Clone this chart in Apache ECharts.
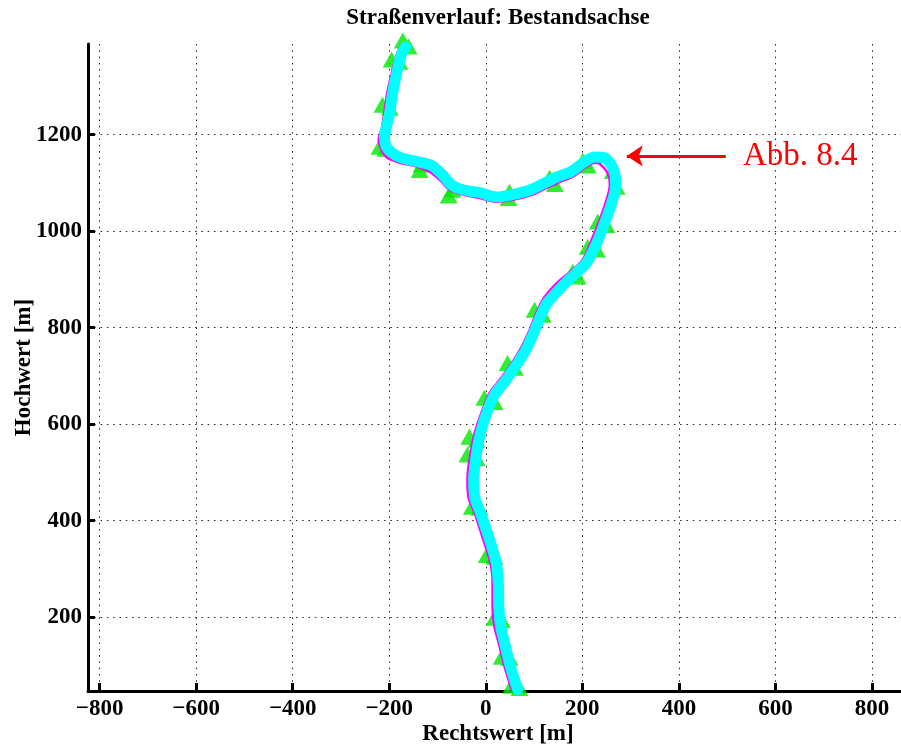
<!DOCTYPE html>
<html>
<head>
<meta charset="utf-8">
<title>Straßenverlauf: Bestandsachse</title>
<script src="https://cdn.jsdelivr.net/npm/echarts@6.0.0/dist/echarts.min.js"></script>
<style>
html, body { margin: 0; padding: 0; background: #fff; }
#chart { width: 901px; height: 747px; }
</style>
</head>
<body>
<div id="chart"></div>
<script>
// Achsen-Ticks
var xTicks = [-800, -600, -400, -200, 0, 200, 400, 600, 800];
var yTicks = [200, 400, 600, 800, 1000, 1200];

// Bestandsachse (magenta), vom Anfang unten bis zum Ende oben
var roadX = [54, 39, 29, 18, 14, 14, 8, -7, -23, -36, -38, -36, -29, -23, -9, 8, 29, 54, 74, 91,
  105, 118, 138, 159, 180, 201, 219, 236, 250, 257, 252, 236, 226, 209, 180, 153, 126, 97, 56, 22,
  -13, -48, -75, -96, -116, -143, -179, -204, -216, -222, -216, -210, -204, -193, -183, -173];
var roadY = [49, 97, 138, 180, 221, 277, 319, 366, 416, 449, 485, 512, 553, 582, 624, 665, 692, 727, 760, 796,
  831, 858, 883, 903, 920, 941, 982, 1024, 1065, 1096, 1121, 1140, 1142, 1134, 1113, 1102, 1090, 1076, 1065, 1061,
  1069, 1076, 1086, 1107, 1123, 1134, 1142, 1152, 1169, 1190, 1210, 1246, 1287, 1335, 1370, 1388];

// gerechnete Achse (cyan)
var axisX = [66, 51, 41, 31, 27, 26, 21, 6, -11, -23, -25, -23, -17, -11, 2, 18, 39, 62, 83, 99,
  114, 126, 147, 167, 188, 209, 230, 246, 261, 269, 265, 246, 225, 205, 176, 149, 122, 93, 56, 22,
  -13, -48, -71, -90, -112, -141, -175, -195, -206, -210, -206, -199, -193, -183, -175, -166];
var axisY = [50, 97, 138, 180, 221, 270, 315, 366, 416, 449, 485, 512, 553, 582, 624, 661, 688, 721, 754, 789,
  825, 850, 874, 895, 914, 935, 976, 1017, 1059, 1096, 1127, 1152, 1154, 1144, 1123, 1113, 1100, 1086, 1076, 1071,
  1080, 1086, 1096, 1117, 1136, 1144, 1152, 1163, 1175, 1194, 1215, 1246, 1287, 1335, 1366, 1382];

// Stationspunkte (gruene Dreiecke)
var markX = [-172, -160, -195, -179, -214, -199, -220, -208, -133, -137, -69, -77, 49, 47, 132, 143,
  201, 211, 263, 271, 232, 250, 211, 230, 180, 190, 101, 118, 45, 60, -3, 18,
  -34, -19, -38, -19, -29, -13, 2, 18, 18, 33, 33, 49, 53, 70];
var markY = [1395, 1383, 1356, 1351, 1262, 1256, 1175, 1171, 1138, 1127, 1086, 1074, 1082, 1069, 1111, 1098,
  1146, 1136, 1125, 1092, 1020, 1013, 968, 962, 916, 906, 837, 827, 727, 717, 655, 646,
  574, 568, 537, 530, 429, 427, 329, 325, 199, 194, 118, 116, 58, 53];

// Hinweispfeil "Abb. 8.4"
var arrowFrom = [497, 1156];
var arrowTo = [292, 1156];

var serif = '"Liberation Serif", "DejaVu Serif", serif';

function zip(xs, ys) {
  return xs.map(function (x, i) { return [x, ys[i]]; });
}

var chart = echarts.init(document.getElementById('chart'));
chart.setOption({
  animation: false,
  backgroundColor: '#fff',
  title: {
    text: 'Straßenverlauf: Bestandsachse',
    left: 498,
    top: 7,
    padding: 0,
    textAlign: 'center',
    textStyle: { fontFamily: serif, fontWeight: 'bold', fontSize: 23, color: '#000' }
  },
  grid: {
    left: 88,
    top: 44,
    right: 0,
    bottom: 56,
    outerBoundsMode: 'none'
  },
  xAxis: {
    type: 'value',
    min: -824,
    max: 860,
    name: 'Rechtswert [m]',
    nameLocation: 'middle',
    nameGap: 32,
    nameMoveOverlap: false,
    nameTextStyle: { fontFamily: serif, fontWeight: 'bold', fontSize: 23, color: '#000', padding: [0, 0, 0, 7] },
    axisLine: { show: true, onZero: false, lineStyle: { color: '#000', width: 3 } },
    axisTick: { show: true, inside: true, length: 8, customValues: xTicks, lineStyle: { color: '#000', width: 3 } },
    axisLabel: {
      customValues: xTicks,
      margin: 7,
      fontFamily: serif, fontWeight: 'bold', fontSize: 23, color: '#000',
      formatter: function (v) { return String(v).replace('-', '\u2212'); }
    },
    splitLine: { show: true, lineStyle: { color: '#222', width: 1, type: [1.5, 4.8] } }
  },
  yAxis: {
    type: 'value',
    min: 47,
    max: 1388,
    name: 'Hochwert [m]',
    nameLocation: 'middle',
    nameGap: 52,
    nameRotate: 90,
    nameMoveOverlap: false,
    nameTextStyle: { fontFamily: serif, fontWeight: 'bold', fontSize: 23, color: '#000' },
    axisLine: { show: true, onZero: false, lineStyle: { color: '#000', width: 3 } },
    axisTick: { show: true, inside: true, length: 7, customValues: yTicks, lineStyle: { color: '#000', width: 3 } },
    axisLabel: {
      customValues: yTicks,
      margin: 6,
      fontFamily: serif, fontWeight: 'bold', fontSize: 23, color: '#000',
      formatter: function (v) { return String(v); }
    },
    splitLine: { show: true, lineStyle: { color: '#222', width: 1, type: [1.5, 4.8] } }
  },
  graphic: [{
    type: 'text',
    left: 743,
    top: 140,
    style: { text: 'Abb. 8.4', fontFamily: serif, fontSize: 33, fill: '#ff0000' }
  }],
  series: [
    {
      name: 'Stationen',
      type: 'scatter',
      z: 1,
      clip: false,
      symbol: 'triangle',
      symbolSize: [18, 16],
      itemStyle: { color: '#00e800' },
      data: zip(markX, markY)
    },
    {
      name: 'Bestandsachse',
      type: 'line',
      z: 2,
      clip: false,
      showSymbol: false,
      smooth: 0.3,
      lineStyle: { color: '#ff00ff', width: 2.5 },
      data: zip(roadX, roadY),
      markLine: {
        silent: true,
        symbol: ['none', 'arrow'],
        symbolSize: 16,
        label: { show: false },
        lineStyle: { color: '#ff0000', width: 3, type: 'solid' },
        data: [[{ coord: arrowFrom }, { coord: arrowTo }]]
      }
    },
    {
      name: 'Achse',
      type: 'line',
      z: 3,
      clip: false,
      showSymbol: false,
      smooth: 0.3,
      lineStyle: { color: '#00ffff', width: 11, cap: 'round', join: 'round' },
      data: zip(axisX, axisY)
    }
  ]
});
</script>
</body>
</html>
